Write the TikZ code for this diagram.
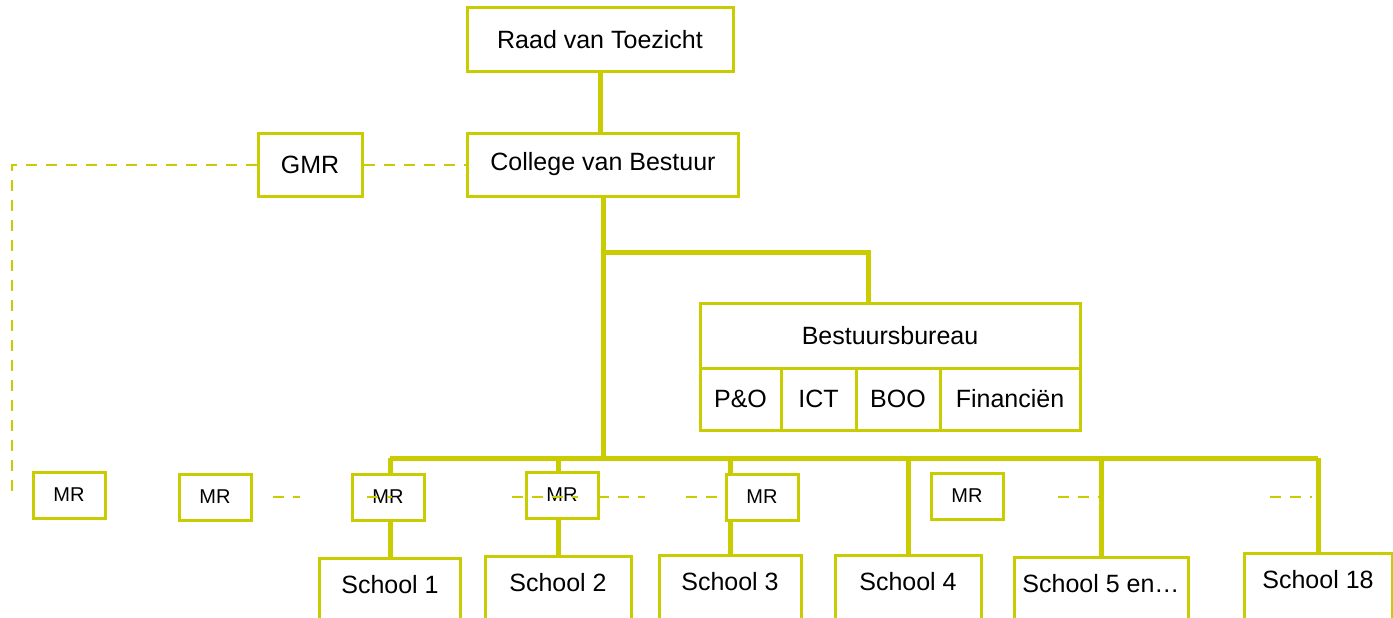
\documentclass[tikz,border=0pt]{standalone}
\usepackage{fontspec}
\setmainfont{Liberation Sans}
\usetikzlibrary{positioning}
\definecolor{orgline}{RGB}{200,204,0}

\tikzset{
    unitbox/.style={draw=orgline, line width=3pt, fill=white, inner sep=0pt,
        font=\fontsize{25}{30}\selectfont},
    mrbox/.style={draw=orgline, line width=3pt, fill=white, inner sep=0pt,
        minimum width=72pt, minimum height=46pt, font=\fontsize{20}{24}\selectfont},
    schoolbox/.style={draw=orgline, line width=3pt, fill=white, anchor=north,
        inner ysep=0pt, text height=35pt, text depth=45pt, font=\fontsize{25}{30}\selectfont},
    treeline/.style={orgline, line width=5pt},
    mrlink/.style={orgline, line width=2pt, dash pattern=on 11pt off 9pt}
}

\begin{document}
\begin{tikzpicture}[x=1pt, y=-1pt]
    \clip (0,0) rectangle (1393,618);
    \useasboundingbox (0,0) rectangle (1393,618);

    % Top of the organisation
    \node[unitbox, minimum width=266pt, minimum height=64pt] (raad) at (600,40) {Raad van Toezicht};
    \node[unitbox, minimum width=271pt, minimum height=63pt] (cvb) at (603,164.5) {College van Bestuur};
    \node[unitbox, minimum width=104pt, minimum height=63pt] (gmr) at (310,164.5) {GMR};

    % Bestuursbureau with its departments
    \node[unitbox, minimum width=380pt, minimum height=65pt] (bb) at (890,335.5) {Bestuursbureau};
    \node[unitbox, minimum width=81pt, minimum height=62pt] (po) at (740.5,399) {P\&O};
    \node[unitbox, minimum width=75pt, minimum height=62pt] (ict) at (818.5,399) {ICT};
    \node[unitbox, minimum width=84pt, minimum height=62pt] (boo) at (898,399) {BOO};
    \node[unitbox, minimum width=140pt, minimum height=62pt] (fin) at (1010,399) {Financiën};

    % Schools
    \node[schoolbox, minimum width=141pt] (s1) at (390,557) {School 1};
    \node[schoolbox, minimum width=146pt] (s2) at (558,555) {School 2};
    \node[schoolbox, minimum width=142pt] (s3) at (730,554) {School 3};
    \node[schoolbox, minimum width=146pt] (s4) at (908,554) {School 4};
    \node[schoolbox, minimum width=174pt] (s5) at (1101,556) {School 5 en\dots};
    \node[schoolbox, minimum width=148pt] (s18) at (1318,552) {School 18};

    % Tree lines
    \coordinate (split) at (603,252);
    \coordinate (bus) at (603,458);
    \draw[treeline] (raad.south) -- (raad.south |- cvb.north);
    \draw[treeline] (cvb.south) -- (bus);
    \draw[treeline] (split) -| ([xshift=-22pt]bb.north);
    \draw[treeline] (s1.north |- bus) -- (s18.north |- bus);
    \foreach \s in {s1,s2,s3,s4,s5,s18} {
        \draw[treeline] (\s.north |- bus) -- (\s.north);
    }

    % Medezeggenschapsraden
    \node[mrbox] (mr1) at (69,495) {MR};
    \node[mrbox] (mr2) at (215,497) {MR};
    \node[mrbox] (mr3) at (388,497) {MR};
    \node[mrbox] (mr4) at (562,495) {MR};
    \node[mrbox] (mr5) at (762,497) {MR};
    \node[mrbox] (mr6) at (967,496) {MR};

    % GMR links
    \coordinate (gmrend) at (12,492);
    \draw[mrlink] (gmr.east) -- (cvb.west);
    \draw[mrlink] (gmr.west) -| (gmrend);

    % Loose MR links
    \foreach \a/\b in {273/300, 367/392, 512/578, 598/645, 686/726, 1058/1100, 1270/1312} {
        \draw[mrlink] (\a,497) -- (\b,497);
    }
\end{tikzpicture}
\end{document}
